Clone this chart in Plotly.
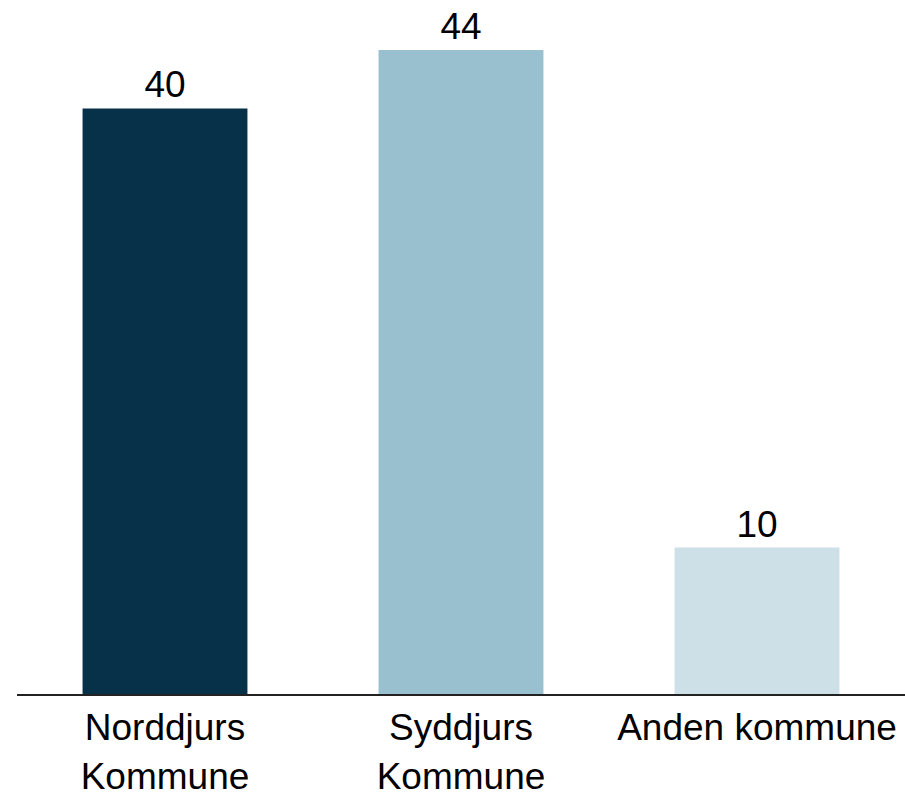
import plotly.graph_objects as go

categories = ["Norddjurs<br>Kommune", "Syddjurs<br>Kommune", "Anden kommune"]
values = [40, 44, 10]
colors = ["#073148", "#98c0cf", "#cde0e7"]

fig = go.Figure(go.Bar(
    x=categories, y=values,
    marker=dict(color=colors, line=dict(width=0)),
    text=[str(v) for v in values],
    textposition="outside",
    textfont=dict(family="Liberation Sans, Arial", size=37, color="black"),
    cliponaxis=False,
))

fig.update_layout(
    width=905, height=794,
    margin=dict(l=17, r=0, t=6, b=100, autoexpand=False),
    paper_bgcolor="white", plot_bgcolor="white",
    bargap=0.443,
    showlegend=False,
    font=dict(family="Liberation Sans, Arial", size=37, color="black"),
    xaxis=dict(showline=True, linecolor="#222222", linewidth=2, ticks="",
               tickfont=dict(size=37, color="black"), showgrid=False,
               ticklabelstandoff=0, automargin=False),
    yaxis=dict(range=[0, 47], visible=False, showgrid=False),
)

fig.write_html(
    "out.html",
    config={"displayModeBar": False},
    post_script="document.body.style.margin='0';document.body.style.overflow='hidden';",
)
